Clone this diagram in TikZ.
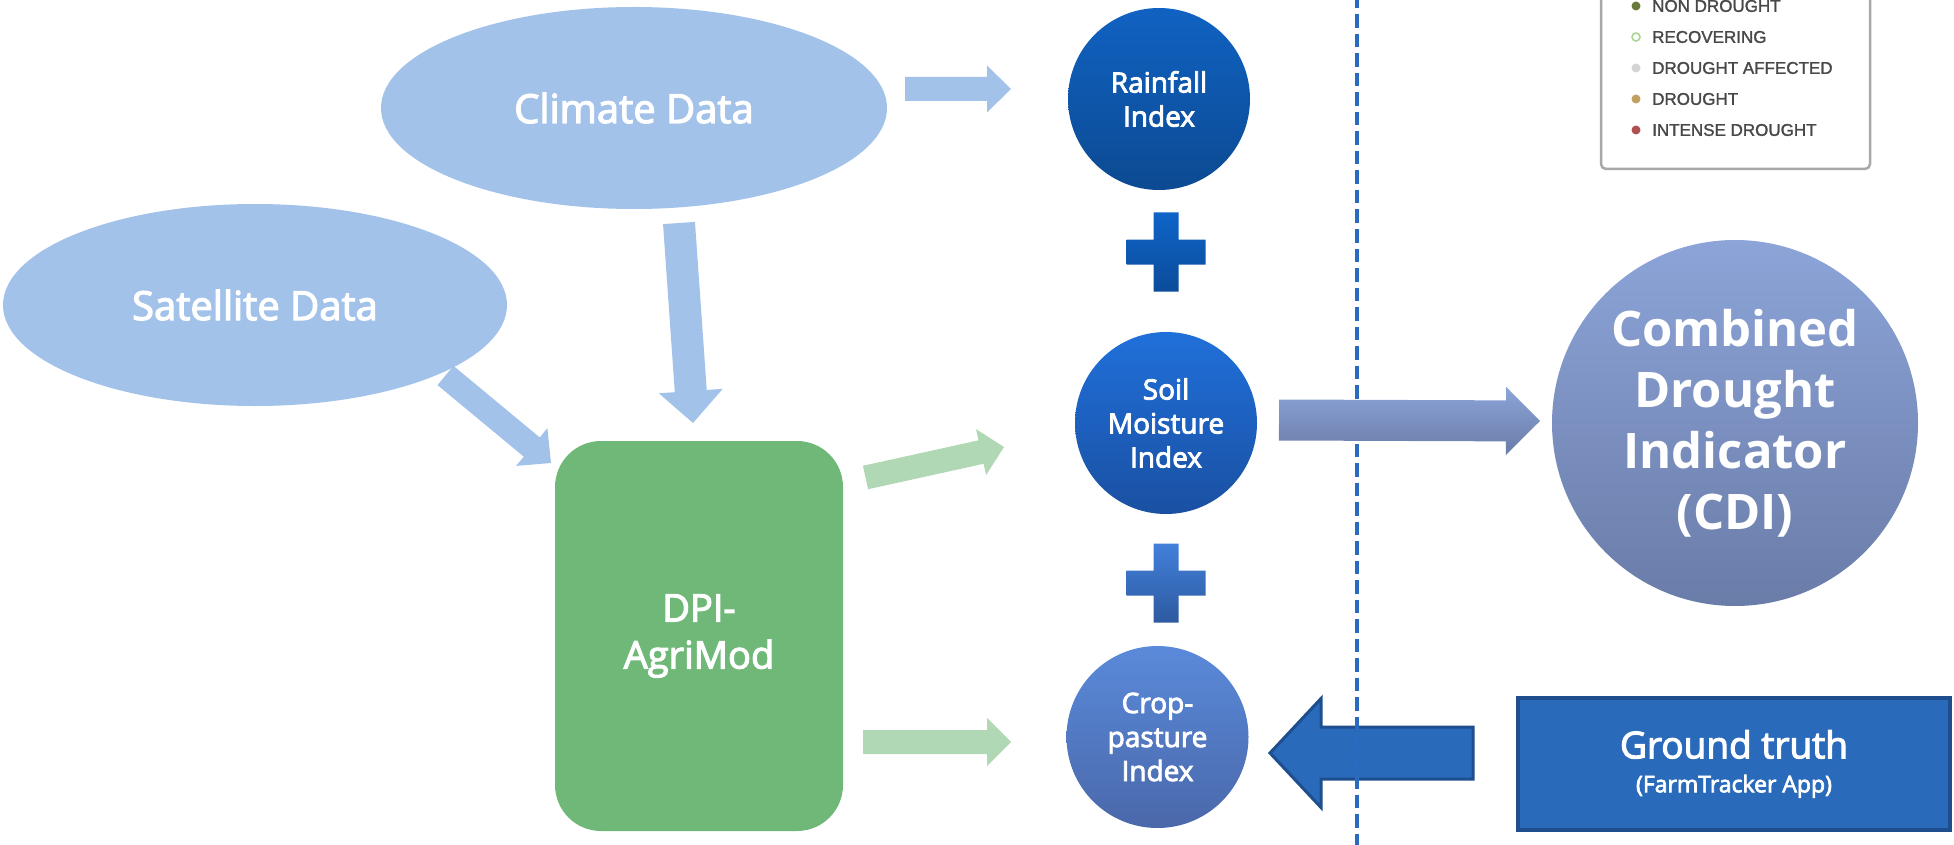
\documentclass[tikz,border=0pt]{standalone}
\usepackage{fontspec}
\setmainfont{Open Sans}
\newfontfamily\semifont[FakeBold=3]{Open Sans}
\newfontfamily\legendfont[FakeBold=1.5]{Liberation Sans}
\usetikzlibrary{calc,shapes.geometric}

\definecolor{lblue}{HTML}{A2C2EA}
\definecolor{dgreen}{HTML}{70B878}
\definecolor{lgreen}{HTML}{B0D8B4}
\definecolor{rainT}{HTML}{1062C2}
\definecolor{rainB}{HTML}{0C4A92}
\definecolor{plusAT}{HTML}{0E64C8}
\definecolor{plusAB}{HTML}{0B4C9A}
\definecolor{soilT}{HTML}{2070DA}
\definecolor{soilB}{HTML}{1A50A2}
\definecolor{plusBT}{HTML}{4280DA}
\definecolor{plusBB}{HTML}{2E5AA0}
\definecolor{cropT}{HTML}{5A8ADA}
\definecolor{cropB}{HTML}{4A68AA}
\definecolor{cdiT}{HTML}{8CA4D8}
\definecolor{cdiB}{HTML}{6A7CA8}
\definecolor{gtfill}{HTML}{2A6ABA}
\definecolor{gtline}{HTML}{1E4E8E}
\definecolor{dashcol}{HTML}{2A6AC0}
\definecolor{leggray}{HTML}{A8A8A8}
\definecolor{legtext}{HTML}{484848}
\definecolor{dotA}{HTML}{6A7A3A}
\definecolor{dotB}{HTML}{A8D890}
\definecolor{dotC}{HTML}{D4D4D4}
\definecolor{dotD}{HTML}{C0A060}
\definecolor{dotE}{HTML}{B05050}

% block arrow: #1 style, #2 start coord, #3 tip coord, #4 half shaft, #5 half head, #6 head length
\newcommand{\blockarrow}[6]{%
  \path (#2) coordinate (baA) (#3) coordinate (baB);
  \path ($(baB)!#6!(baA)$) coordinate (baH);
  \path[#1] ($(baA)!#4!90:(baB)$) -- ($(baH)!#4!90:(baB)$) -- ($(baH)!#5!90:(baB)$)
    -- (baB) -- ($(baH)!#5!-90:(baB)$) -- ($(baH)!#4!-90:(baB)$) -- ($(baA)!#4!-90:(baB)$) -- cycle;
}
% plus sign: #1 centre, #2 style
\newcommand{\plussign}[2]{%
  \path[shift={#1},#2] (-12.5,-39.5) -- (12.5,-39.5) -- (12.5,-12.5) -- (39.5,-12.5) -- (39.5,12.5)
    -- (12.5,12.5) -- (12.5,39.5) -- (-12.5,39.5) -- (-12.5,12.5) -- (-39.5,12.5) -- (-39.5,-12.5)
    -- (-12.5,-12.5) -- cycle;
}

\begin{document}
\begin{tikzpicture}[x=1pt,y=-1pt,
  datanode/.style={ellipse, fill=lblue, inner sep=0pt, minimum height=202pt,
    text=white, font=\semifont\fontsize{40}{48}\selectfont},
  idxnode/.style={circle, inner sep=0pt, minimum size=182pt, text=white, align=center,
    font=\semifont\fontsize{28}{34}\selectfont},
  legtxt/.style={anchor=west, inner sep=0pt, text=legtext, font=\legendfont\fontsize{17}{17}\selectfont},
  legdot/.style={circle, inner sep=0pt, minimum size=9pt},
  lightarrow/.style={fill=lblue},
  greenarrow/.style={fill=lgreen},
]
\useasboundingbox (0,0) rectangle (1954,845);

% legend
\node[draw=leggray, line width=2.5pt, rounded corners=5pt, fill=white, minimum width=269pt,
  minimum height=186pt, inner sep=0pt] (legend) at (1735.5,76) {};
\node[legdot, fill=dotA] (ldA) at (1636,6) {};
\node[legdot, fill=white, draw=dotB, line width=1.6pt, minimum size=8pt] (ldB) at (1636,37) {};
\node[legdot, fill=dotC] (ldC) at (1636,68) {};
\node[legdot, fill=dotD] (ldD) at (1636,99) {};
\node[legdot, fill=dotE] (ldE) at (1636,130) {};
\node[legtxt] (ltA) at (1652,6) {NON DROUGHT};
\node[legtxt] (ltB) at (1652,37) {RECOVERING};
\node[legtxt] (ltC) at (1652,68) {DROUGHT AFFECTED};
\node[legtxt] (ltD) at (1652,99) {DROUGHT};
\node[legtxt] (ltE) at (1652,130) {INTENSE DROUGHT};

% data sources
\node[datanode, minimum width=506pt] (climate) at (634,108) {Climate Data};
\node[datanode, minimum width=504pt] (satellite) at (255,305) {Satellite Data};

% model
\node[rectangle, rounded corners=46pt, fill=dgreen, minimum width=288pt, minimum height=390pt,
  inner sep=0pt, text=white, align=center, font=\semifont\fontsize{38}{47}\selectfont] (dpi) at (699,636) {DPI-\\AgriMod};

% indices
\node[idxnode, top color=rainT, bottom color=rainB] (rain) at (1159,99) {Rainfall\\Index};
\node[idxnode, top color=soilT, bottom color=soilB] (soil) at (1166,423) {Soil\\Moisture\\Index};
\node[idxnode, top color=cropT, bottom color=cropB] (crop) at (1157.5,737) {Crop-\\pasture\\Index};
\plussign{(1166,252)}{top color=plusAT, bottom color=plusAB}
\plussign{(1166,583)}{top color=plusBT, bottom color=plusBB}

% CDI
\node[circle, inner sep=0pt, minimum size=366pt, top color=cdiT, bottom color=cdiB, text=white,
  align=center, font=\bfseries\fontsize{49}{61}\selectfont] (cdi) at (1735,423) {Combined\\Drought\\Indicator\\(CDI)};

% ground truth
\node[rectangle, fill=gtfill, draw=gtline, line width=4pt, minimum width=432pt, minimum height=132pt,
  inner sep=0pt, text=white, align=center, font=\semifont\fontsize{37}{37}\selectfont] (gt) at (1734,764)
  {\raisebox{-3pt}{Ground truth}\\{\fontsize{23}{28}\selectfont (FarmTracker App)}};

% arrow end coordinates
\coordinate (clA) at (905,89);   \coordinate (clB) at (1011,89);
\coordinate (cdA) at (679,223);  \coordinate (cdB) at (693,423);
\coordinate (saA) at (445.5,375.5); \coordinate (saB) at (551,463);
\coordinate (gaA) at (865.5,477.5); \coordinate (gaB) at (1004,447);
\coordinate (gbA) at (863,742);  \coordinate (gbB) at (1011,742);
\coordinate (ciA) at (1279,420); \coordinate (ciB) at (1540,421);
\coordinate (gtA) at (1473,753); \coordinate (gtB) at (1270,753);
\coordinate (dashT) at (1357,-5); \coordinate (dashB) at (1357,850);

\blockarrow{lightarrow}{clA}{clB}{12pt}{23.5pt}{24pt}
\blockarrow{lightarrow}{cdA}{cdB}{16pt}{32pt}{32pt}
\blockarrow{lightarrow}{saA}{saB}{12.5pt}{24.5pt}{25pt}
\blockarrow{greenarrow}{gaA}{gaB}{12pt}{23.5pt}{23.5pt}
\blockarrow{greenarrow}{gbA}{gbB}{12pt}{24pt}{24pt}
\blockarrow{fill=gtfill, draw=gtline, line width=3pt, line join=miter}{gtA}{gtB}{26pt}{54.5pt}{51pt}

% divider
\draw[dashcol, line width=4pt, dash pattern=on 13.5pt off 6pt] (dashT) -- (dashB);

\blockarrow{top color=cdiT, bottom color=cdiB}{ciA}{ciB}{20.5pt}{34pt}{34pt}
\end{tikzpicture}
\end{document}
